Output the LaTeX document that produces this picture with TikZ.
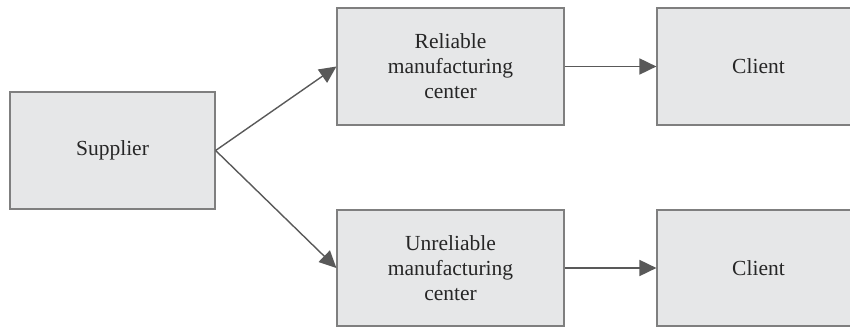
\documentclass[tikz,border=0pt]{standalone}
\usepackage{fontspec}
\setmainfont{Liberation Serif}
\usetikzlibrary{arrows.meta}
\definecolor{boxfill}{HTML}{E6E7E8}
\definecolor{boxline}{HTML}{7F7F7F}
\definecolor{arrowc}{HTML}{595959}
\begin{document}
\begin{tikzpicture}[x=1pt,y=-1pt,
  box/.style={draw=boxline,fill=boxfill,line width=1.2pt,inner sep=0pt,
    align=center,font=\fontsize{21.5}{25}\selectfont,text=black!85},
  conn/.style={draw=arrowc,line width=1.4pt,-{Triangle[length=17pt,width=16pt]}}]
\useasboundingbox (0,0) rectangle (850,328);
\node[box,minimum width=205pt,minimum height=117pt] (sup) at (112.5,150.5) {Supplier};
\node[box,minimum width=227pt,minimum height=117pt] (rel) at (450.5,66.5) {Reliable\\manufacturing\\center};
\node[box,minimum width=227pt,minimum height=116pt] (unr) at (450.5,268) {Unreliable\\manufacturing\\center};
\node[box,minimum width=203pt,minimum height=117pt] (c1) at (758.5,66.5) {Client};
\node[box,minimum width=203pt,minimum height=116pt] (c2) at (758.5,268) {Client};
\draw[conn] (sup.east) -- (rel.west);
\draw[conn] (sup.east) -- (unr.west);
\draw[conn,line width=1.8pt] (rel.east) -- (c1.west);
\draw[conn,line width=1.8pt] (unr.east) -- (c2.west);
\end{tikzpicture}
\end{document}
